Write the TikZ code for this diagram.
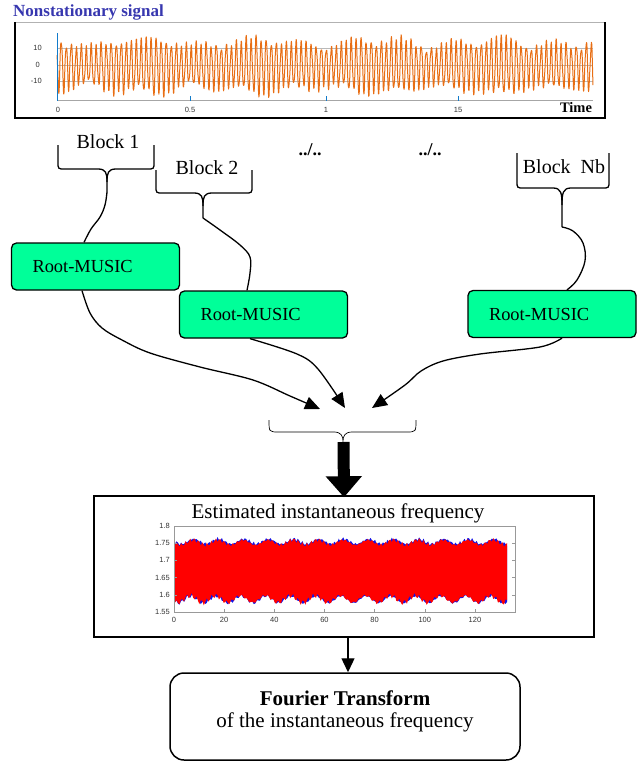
\documentclass[tikz,border=0pt]{standalone}
\usepackage{fontspec}
\setmainfont{Liberation Serif}
\newfontfamily\axfont{Liberation Sans}
\usetikzlibrary{arrows.meta}
\definecolor{rmgreen}{RGB}{0,255,153}
\definecolor{sigorange}{RGB}{232,110,20}
\definecolor{titleblue}{RGB}{55,55,175}
\definecolor{plotblue}{RGB}{20,20,230}
\newcommand{\myfs}[1]{\fontsize{#1}{#1}\selectfont}
\begin{document}
\begin{tikzpicture}[x=1pt,y=-1pt,
  rmbox/.style={draw,line width=1.3pt,fill=rmgreen,rounded corners=5pt,minimum height=47pt,text width=126pt,inner xsep=21pt,align=left,font=\myfs{18.4}},
  wire/.style={line width=1.3pt},
  warrow/.style={wire,-{Triangle[length=15pt,width=13pt]}},
  bracestyle/.style={line width=1.3pt},
  blk/.style={font=\myfs{20}},
  ax/.style={font=\axfont\myfs{7.5},text=black!80,inner sep=0pt},
  dots/.style={font=\bfseries\myfs{18}},
  declare function={ws(\k,\t)=sin(\k*mod(\t,360/\k));},
]
\useasboundingbox (0,0) rectangle (639,763);

% ---------- top signal ----------
\node[anchor=west,font=\bfseries\myfs{17},text=titleblue,inner sep=0pt] (title) at (13,12) {Nonstationary signal};
\draw[gray!60,line width=0.8pt] (15,22) -- (605,22);
\draw[line width=2pt] (15,22) -- (15,118) -- (605,118) -- (605,22);
\foreach \yy in {48,65,81} \draw[gray!55,line width=0.5pt] (57,\yy) -- (593,\yy);
\draw[gray!70,line width=0.6pt] (57,100) -- (593,100);
\foreach \xx in {190,326,458} \draw[cyan!60!blue,line width=0.5pt] (\xx,96) -- (\xx,101);
\draw[sigorange,line width=1pt,line join=round] plot[domain=57:593,samples=1700]
  (\x,{66-(23+3*sin(3.1*\x)+2*sin(7.3*\x))*sin(72*mod(\x,5))-4*ws(151,\x)-2*ws(37,\x)});
\draw[cyan!60!blue,line width=0.7pt] (57,33) -- (57,101);
\node[ax,anchor=east] (t10) at (42,48) {10};
\node[ax,anchor=east] (t0) at (40,65) {0};
\node[ax,anchor=east] (tm10) at (42,81) {-10};
\node[ax] (x0) at (58,110) {0};
\node[ax] (x05) at (190,110) {0.5};
\node[ax] (x1) at (326,110) {1};
\node[ax] (x15) at (458,110) {15};
\node[font=\bfseries\myfs{14.5},inner sep=0pt] (time) at (576,108) {Time};

% ---------- braces ----------
\draw[bracestyle] (58,145) -- (58,162) .. controls (58,169) .. (65,169) -- (98,169)
  .. controls (106,169) and (107,173) .. (107,182) -- (107,192);
\draw[bracestyle] (107,182) .. controls (107,173) and (108,169) .. (116,169) -- (147,169)
  .. controls (154,169) .. (154,162) -- (154,145);
\node[blk] (blk1) at (108,142) {Block 1};

\draw[bracestyle] (156,170) -- (156,186) .. controls (156,193) .. (163,193) -- (194,193)
  .. controls (202,193) and (203,197) .. (203,206) -- (203,218);
\draw[bracestyle] (203,206) .. controls (203,197) and (204,193) .. (212,193) -- (245,193)
  .. controls (252,193) .. (252,186) -- (252,170);
\node[blk] (blk2) at (207,168) {Block 2};

\draw[bracestyle] (517,153) -- (517,181) .. controls (517,188) .. (524,188) -- (553,188)
  .. controls (561,188) and (562,193) .. (562,205) -- (562,227);
\draw[bracestyle] (562,205) .. controls (562,193) and (563,188) .. (571,188) -- (602,188)
  .. controls (609,188) .. (609,181) -- (609,153);
\node[blk] (blkN) at (564,167) {Block\ \ Nb};

\node[dots] (d1) at (310,150) {../..};
\node[dots] (d2) at (430,150) {../..};

\coordinate (b1tip) at (107,192);
\coordinate (b2tip) at (203,218);
\coordinate (bNtip) at (562,227);

% ---------- Root-MUSIC boxes ----------
\node[rmbox] (rm1) at (95.5,266.5) {Root-MUSIC};
\node[rmbox] (rm2) at (263.5,314.5) {Root-MUSIC};
\node[rmbox] (rm3) at (552,314) {Root-MUSIC};

\draw[wire] plot[smooth,tension=0.6] coordinates {(b1tip) (105,205) (100,217) (91,229) ([xshift=-11.5pt]rm1.north)};
\draw[wire] plot[smooth,tension=0.6] coordinates {(b2tip) (220,230) (240,245) (250,257) (250,273) ([xshift=-16.5pt]rm2.north)};
\draw[wire] plot[smooth,tension=0.6] coordinates {(bNtip) (573,231) (583,243) (585,261) (577,280) ([xshift=15pt]rm3.north)};

\coordinate (in1) at (320,409);
\coordinate (in2) at (345,408);
\coordinate (in3) at (372,408);
\draw[warrow] plot[smooth,tension=0.55] coordinates {([xshift=-13.5pt]rm1.south) (90,313) (102,328) (122,340) (150,353) (200,367) (253,380) (290,396) (in1)};
\draw[warrow] plot[smooth,tension=0.55] coordinates {([xshift=-13.5pt]rm2.south) (297,354) (318,369) (in2)};
\draw[warrow] plot[smooth,tension=0.55] coordinates {([xshift=10pt]rm3.south) (540,347) (480,354) (443,361) (421,371) (405,385) (in3)};

% lower brace
\draw[line width=0.7pt] (269,420) .. controls (269,432) .. (279,432) -- (334,432)
  .. controls (341,432) and (343,436) .. (343,441)
  .. controls (343,436) and (345,432) .. (352,432) -- (406,432)
  .. controls (416,432) .. (416,420);
\coordinate (lbtip) at (343.5,442);

% ---------- estimated frequency frame ----------
\node[draw,line width=1.5pt,minimum width=500pt,minimum height=141pt,inner sep=0pt] (fr) at (344,566.5) {};
\node[font=\myfs{21},inner sep=0pt] (frtitle) at (338,513) {Estimated instantaneous frequency};
\draw[line width=12pt,-{Triangle[length=21pt,width=35pt]}] (lbtip) -- ([yshift=-2pt]fr.north);

% band
\fill[plotblue] plot[domain=175:507,samples=220] (\x,{541.5+2.5*sin(14.4*\x)+1.3*ws(89,\x)+0.8*ws(157,\x)})
  -- plot[domain=507:175,samples=220] (\x,{599.5+3.5*sin(14.4*\x+40)+1.5*ws(67,\x)+1*ws(171,\x)}) -- cycle;
\fill[red] plot[domain=175:507,samples=220] (\x,{542.5+2.5*sin(14.4*\x+10)+1.5*ws(83,\x)+0.8*ws(151,\x)})
  -- plot[domain=507:175,samples=220] (\x,{599+3.5*sin(14.4*\x+50)+2*ws(71,\x)+1*ws(163,\x)}) -- cycle;
\draw[gray!80,line width=0.6pt] (174,526) rectangle (515,612);
\foreach \yy/\lab in {526/1.8,543.2/1.75,560.4/1.7,577.6/1.65,594.8/1.6,612/1.55}{
  \draw[gray!80,line width=0.5pt] (174,\yy) -- (177,\yy);
  \draw[gray!80,line width=0.5pt] (515,\yy) -- (512,\yy);
  \node[ax,anchor=east] at (170,\yy) {\lab};
}
\foreach \v in {0,20,40,60,80,100,120}{
  \draw[gray!80,line width=0.5pt] ({174+2.508*\v},612) -- ({174+2.508*\v},609);
  \node[ax] at ({174+2.508*\v},620) {\v};
}

% ---------- Fourier box ----------
\node[draw,line width=1.5pt,rounded corners=14pt,minimum width=350pt,minimum height=87pt] (fb) at (345,716.5) {};
\node[font=\myfs{21},align=center,inner sep=0pt] (ft) at (345,711) {\textbf{Fourier Transform}\\[1pt]of the instantaneous frequency};
\draw[wire,-{Triangle[length=14pt,width=13pt]}] ([xshift=4pt]fr.south) -- ([xshift=3pt]fb.north);
\end{tikzpicture}
\end{document}
